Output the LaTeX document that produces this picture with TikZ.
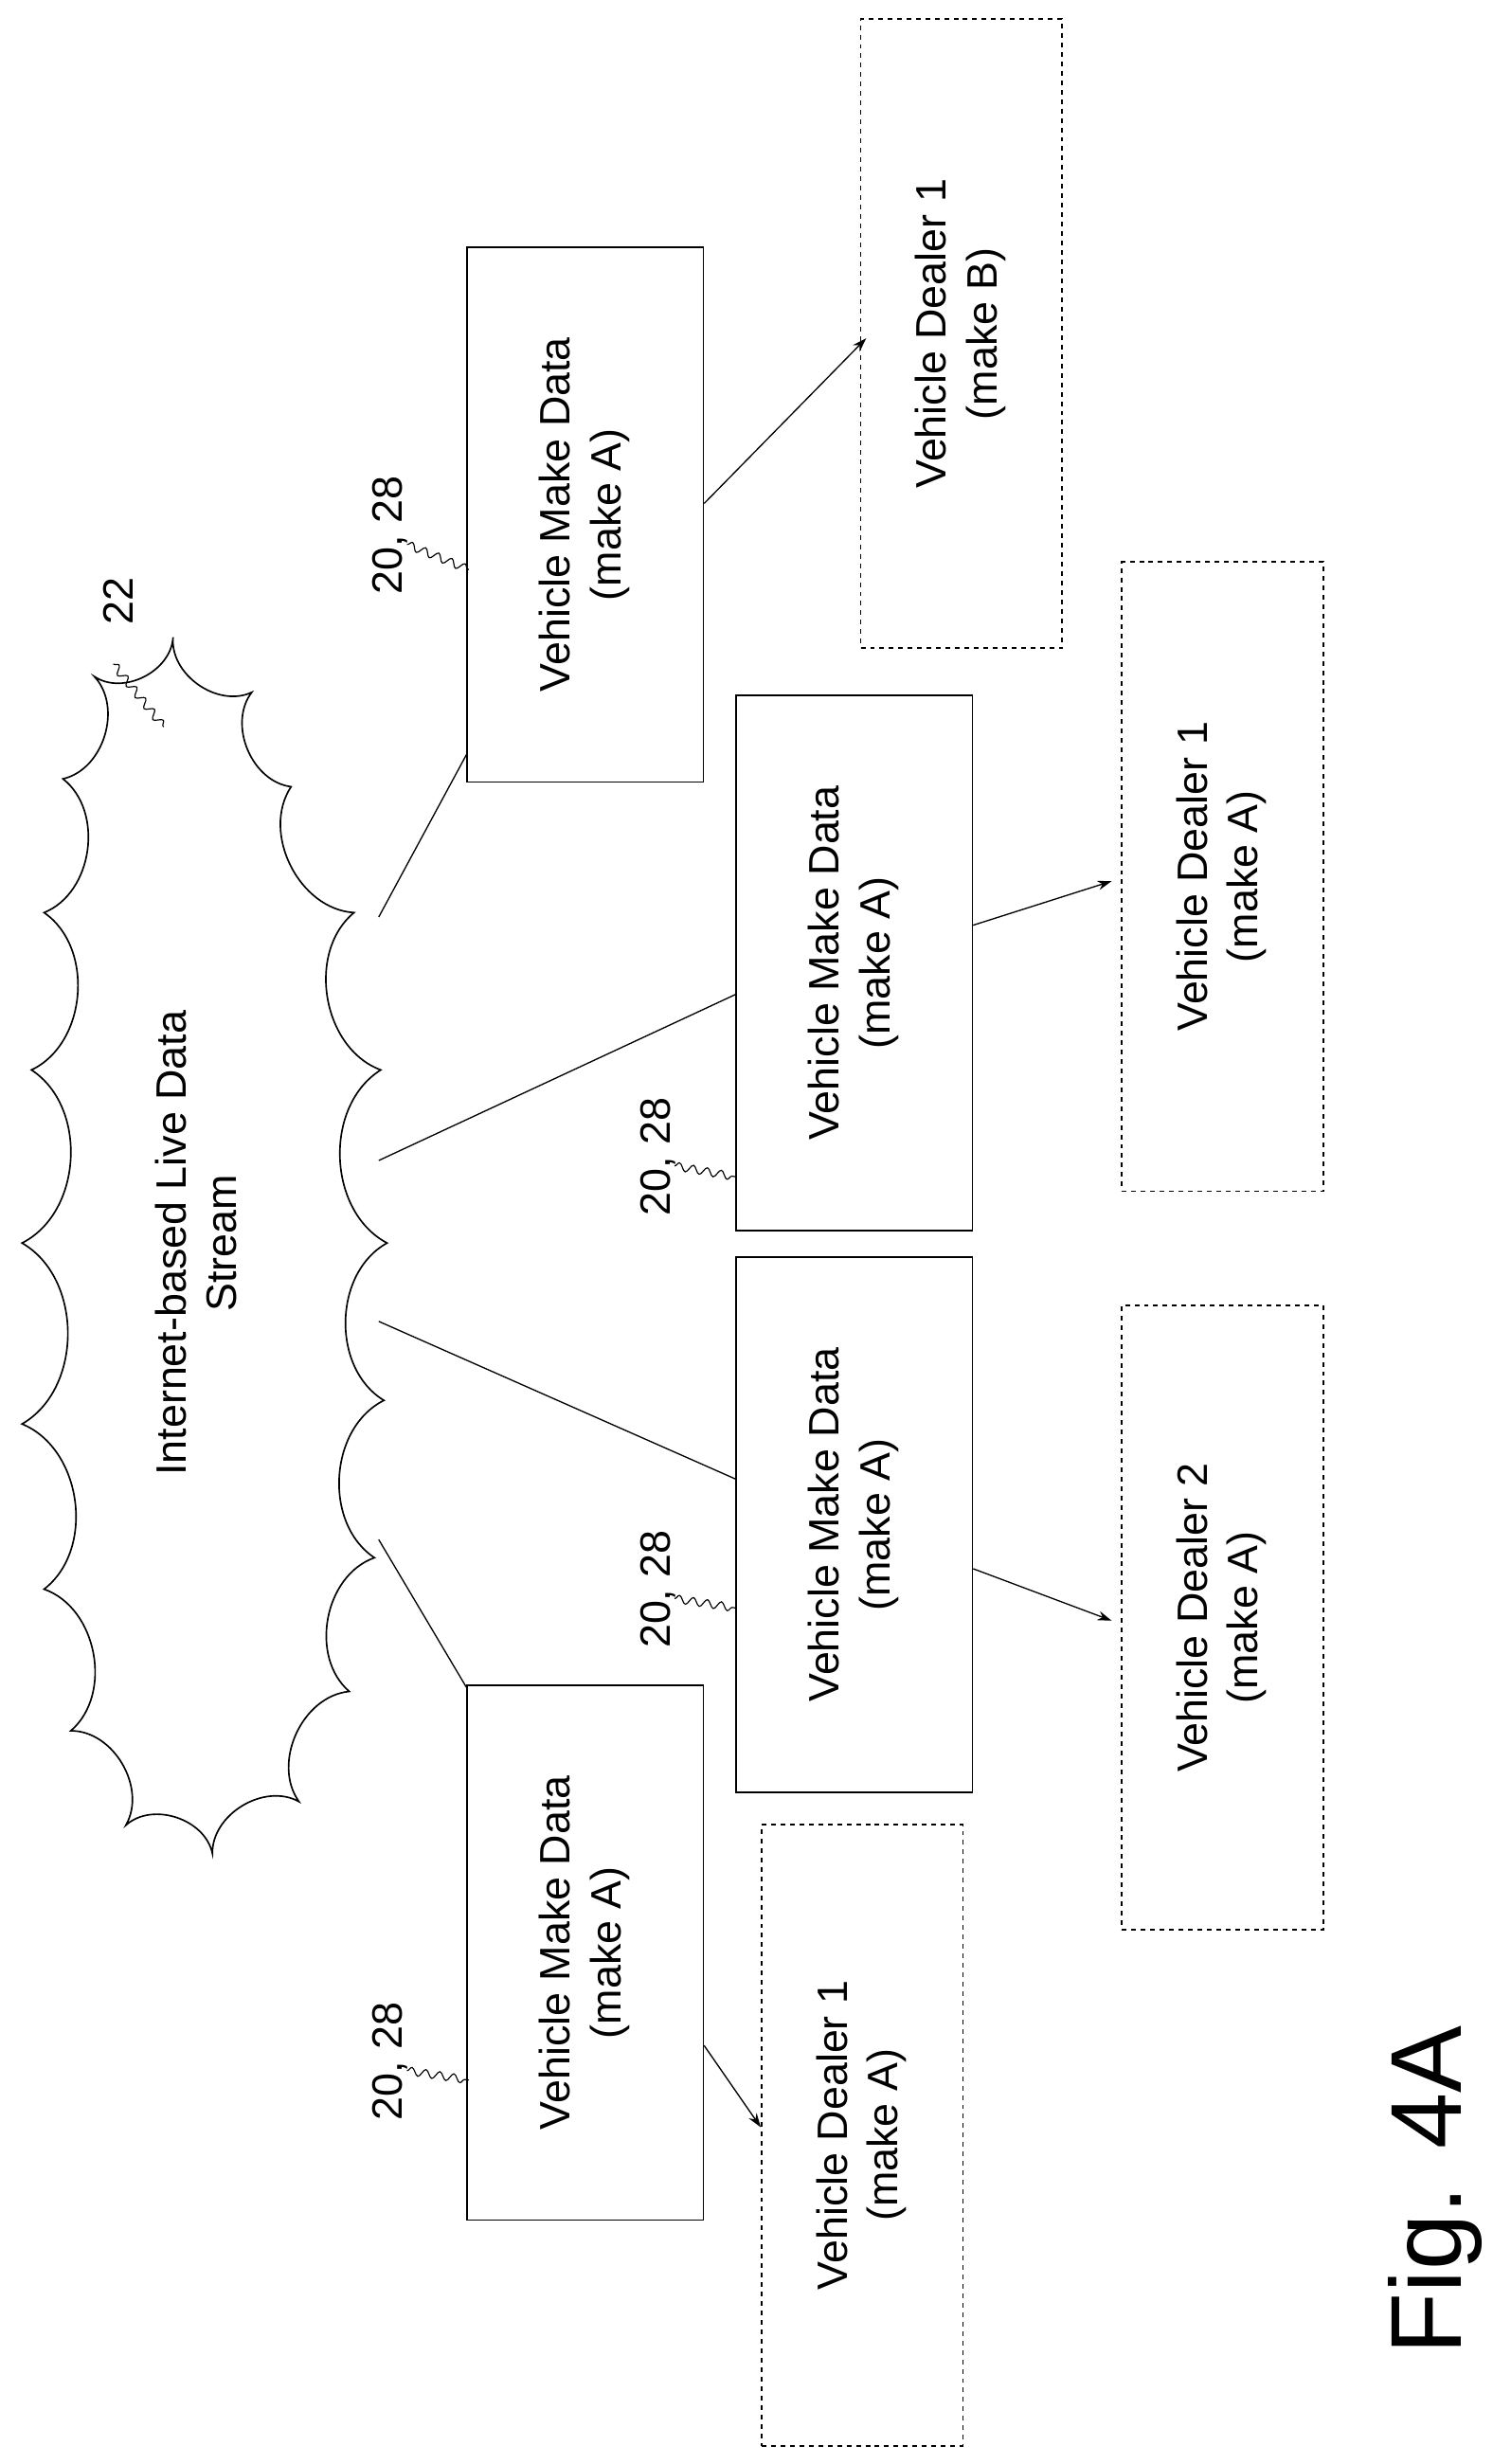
\documentclass[tikz,border=0pt]{standalone}
\usepackage{fontspec}
\setmainfont{Liberation Sans}
\usetikzlibrary{arrows.meta,decorations.pathmorphing}
\begin{document}
\begin{tikzpicture}[x=1pt,y=-1pt,
    databox/.style = {draw, line width=1pt, inner sep=0pt, minimum width=150pt, minimum height=340pt},
    dealerbox/.style = {draw, dashed, line width=1pt, inner sep=0pt, minimum width=128pt, minimum height=398pt},
    link/.style = {line width=0.8pt},
    feed/.style = {line width=0.8pt, -{Stealth[length=9pt,width=6pt]}},
    leader/.style = {line width=0.7pt, decorate, decoration={snake, amplitude=2.5pt, segment length=9pt}},
    every node/.style = {font=\fontsize{27}{32}\selectfont}
  ]
  \useasboundingbox (0,0) rectangle (960,1566);

  % cloud outline
  \draw[line width=1pt] (40,495) to[bend right=60] (60,430) to[bend right=60] (110,405)
    to[bend right=60] (160,440) to[bend right=60] (185,500) to[bend right=60] (225,580)
    to[bend right=60] (242,680) to[bend right=60] (246,790) to[bend right=60] (244,890)
    to[bend right=60] (238,990) to[bend right=60] (222,1075) to[bend right=60] (190,1145)
    to[bend right=60] (135,1178) to[bend right=60] (80,1160) to[bend right=60] (45,1100)
    to[bend right=60] (28,1010) to[bend right=60] (14,905) to[bend right=60] (14,790)
    to[bend right=60] (20,680) to[bend right=60] (28,580) to[bend right=60] cycle;
  \node[minimum width=225pt, minimum height=760pt] (cloud) at (128,790)
        {\rotatebox{90}{\begin{tabular}{c}Internet-based Live Data\\Stream\end{tabular}}};

  % vehicle make data boxes
  \node[databox] (vmdA) at (372,327) {\rotatebox{90}{\begin{tabular}{c}Vehicle Make Data\\(make A)\end{tabular}}};
  \node[databox] (vmdB) at (543,612) {\rotatebox{90}{\begin{tabular}{c}Vehicle Make Data\\(make A)\end{tabular}}};
  \node[databox] (vmdC) at (543,969) {\rotatebox{90}{\begin{tabular}{c}Vehicle Make Data\\(make A)\end{tabular}}};
  \node[databox] (vmdD) at (372,1241) {\rotatebox{90}{\begin{tabular}{c}Vehicle Make Data\\(make A)\end{tabular}}};

  % dealers
  \node[dealerbox, minimum height=400pt] (dealerB) at (611,212) {\rotatebox{90}{\begin{tabular}{c}Vehicle Dealer 1\\(make B)\end{tabular}}};
  \node[dealerbox, minimum height=400pt] (dealerA) at (777,557) {\rotatebox{90}{\begin{tabular}{c}Vehicle Dealer 1\\(make A)\end{tabular}}};
  \node[dealerbox, minimum height=397pt] (dealerC) at (777,1028) {\rotatebox{90}{\begin{tabular}{c}Vehicle Dealer 2\\(make A)\end{tabular}}};
  \node[dealerbox, minimum height=395pt] (dealerD) at (548,1357) {\rotatebox{90}{\begin{tabular}{c}Vehicle Dealer 1\\(make A)\end{tabular}}};

  % cloud links
  \draw[link] ([yshift=18pt]vmdA.south west) -- (cloud);
  \draw[link] ([yshift=-20pt]vmdB.west) -- (cloud);
  \draw[link] ([yshift=29pt]vmdC.west) -- (cloud);
  \draw[link] ([yshift=-2pt]vmdD.north west) -- (cloud);

  % feeds
  \draw[feed] ([yshift=7pt]vmdA.east) -- ([xshift=4pt,yshift=-3pt]dealerB.west);
  \draw[feed] ([yshift=24pt]vmdB.east) -- ([xshift=-6pt,yshift=-3pt]dealerA.west);
  \draw[feed] ([yshift=-28pt]vmdC.east) -- ([xshift=-6pt,yshift=-2pt]dealerC.west);
  \draw[feed] ([yshift=-59pt]vmdD.east) -- ([xshift=0pt,yshift=5pt]dealerD.west);

  % reference labels
  \node (labA) at (248,340) {\rotatebox{90}{20, 28}};
  \node (labB) at (418,735) {\rotatebox{90}{20, 28}};
  \node (labC) at (418,1010) {\rotatebox{90}{20, 28}};
  \node (labD) at (248,1310) {\rotatebox{90}{20, 28}};
  \node (labCloud) at (75,382) {\rotatebox{90}{22}};
  \coordinate (tipA) at (298,362);
  \coordinate (tipB) at (468,748);
  \coordinate (tipC) at (468,1022);
  \coordinate (tipD) at (298,1322);
  \coordinate (footCloud) at (72,422);
  \coordinate (tipCloud) at (104,462);
  \draw[leader] (labA.east) ++(-4,6) -- (tipA);
  \draw[leader] (labB.east) ++(-4,6) -- (tipB);
  \draw[leader] (labC.east) ++(-4,6) -- (tipC);
  \draw[leader] (labD.east) ++(-4,6) -- (tipD);
  \draw[leader] (footCloud) -- (tipCloud);

  \node[font=\fontsize{64}{70}\selectfont] (fig) at (912,1392) {\rotatebox{90}{Fig. 4A}};
\end{tikzpicture}
\end{document}
